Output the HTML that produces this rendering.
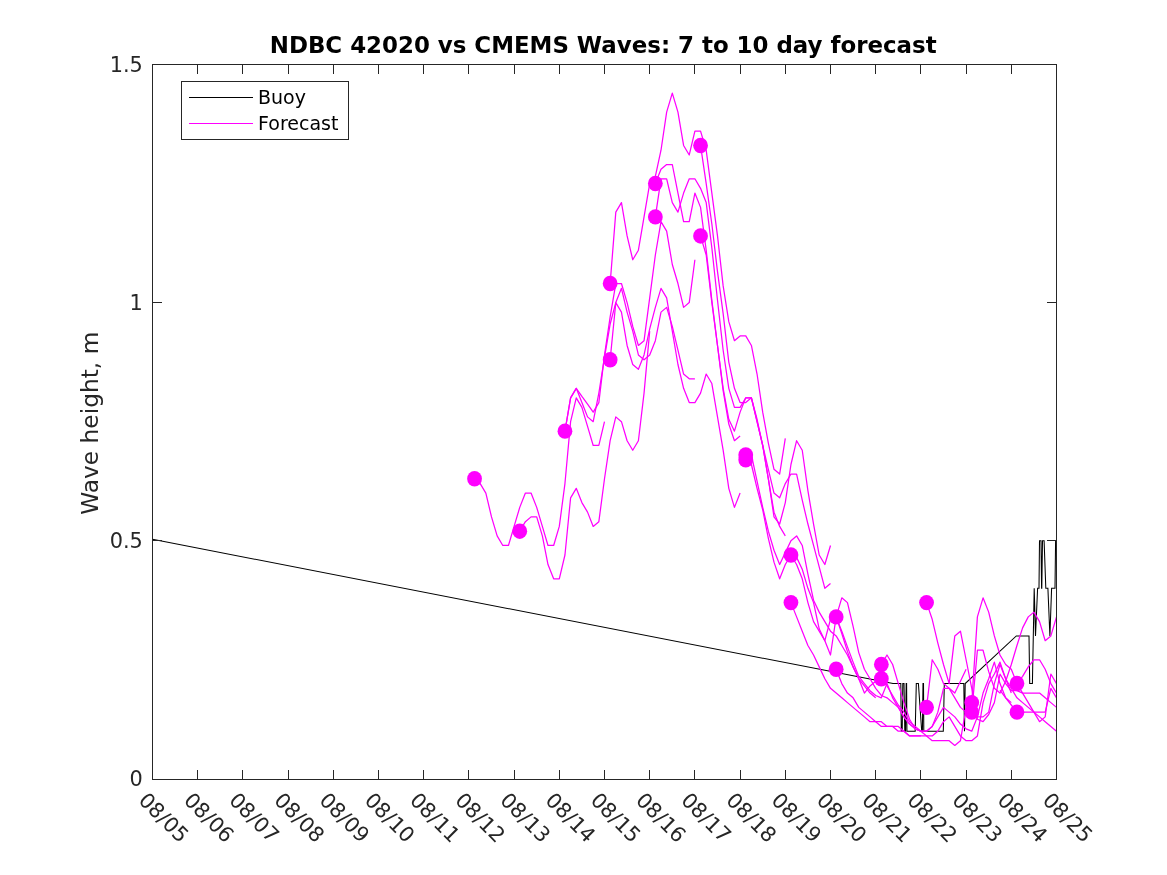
<!DOCTYPE html>
<html lang="en">
<head>
<meta charset="utf-8">
<title>NDBC 42020 vs CMEMS Waves: 7 to 10 day forecast</title>
<style>
html,body{margin:0;padding:0;background:#fff;}
body{width:1167px;height:875px;overflow:hidden;}
svg{display:block;}
text{font-family:"DejaVu Sans","Liberation Sans",sans-serif;}
.tick{font-size:20.83px;fill:#262626;}
.lab{font-size:23.3px;fill:#262626;}
.title{font-size:22.92px;font-weight:bold;fill:#000;}
.leg{font-size:19px;fill:#000;}
.ax{stroke:#262626;stroke-width:1;fill:none;shape-rendering:crispEdges;}
.fc{stroke:#ff00ff;stroke-width:1.25;fill:none;stroke-linejoin:round;}
.by{stroke:#000;stroke-width:1.05;fill:none;stroke-linejoin:miter;}
.dot{fill:#ff00ff;}
</style>
</head>
<body>
<svg width="1167" height="875" viewBox="0 0 1167 875">
<rect x="0" y="0" width="1167" height="875" fill="#ffffff"/>
<defs><clipPath id="clip"><rect x="152.0" y="64.0" width="905.0" height="716.0"/></clipPath></defs>
<g clip-path="url(#clip)">
<polyline class="by" points="152.5,539.27 893,683.56 900.8,683.56 901.3,731.18 902.2,731.18 902.8,683.56 904,683.56 904.8,731.18 905.5,731.18 906.2,683.56 906.6,683.56 906.9,731.18 915.2,731.18 916.3,683.56 918.4,683.56 921.7,731.18 922.4,731.18 923,683.56 923.5,683.56 923.8,731.18 943.3,731.18 944.3,683.56 963.8,683.56 964.5,731.18 965.2,683.56 1016.3,635.94 1029,635.94 1029.7,683.56 1032.4,683.56 1034.2,588.32 1035.5,635.94 1037.6,588.32 1039,588.32 1039.5,540.7 1041,540.7 1041.6,588.32 1041.8,588.32 1042.5,540.7 1044.1,540.7 1045.8,588.32 1047.9,588.32 1049.9,635.94 1051.6,588.32 1055,588.32 1055.6,540.7 1056.5,540.7"/>
<polyline class="fc" points="474.55,478.79 480.2,483.56 485.85,493.08 491.5,516.89 497.15,535.94 502.8,545.46 508.45,545.46 514.1,526.41 519.75,507.37 525.4,493.08 531.05,493.08 536.7,507.37 542.35,526.41 548,545.46 553.65,545.46 559.3,526.41 564.95,483.56 570.6,421.65 576.25,397.84 581.9,407.36 587.55,426.41 593.2,445.46 598.85,445.46 604.5,421.65"/>
<polyline class="fc" points="519.75,531.18 525.4,521.65 531.05,516.89 536.7,516.89 542.35,535.94 548,564.51 553.65,578.8 559.3,578.8 564.95,554.99 570.6,497.84 576.25,488.32 581.9,502.6 587.55,512.13 593.2,526.41 598.85,521.65 604.5,478.79 610.15,440.7 615.8,416.89 621.45,421.65 627.1,440.7 632.75,450.22 638.4,440.7 644.05,393.08 649.7,331.17"/>
<polyline class="fc" points="564.95,431.17 570.6,397.84 576.25,388.32 581.9,396.41 587.55,404.03 593.2,412.13 598.85,402.6 604.5,354.98 610.15,316.89 615.8,283.55 621.45,283.55 627.1,302.6 632.75,326.41 638.4,345.46 644.05,340.7 649.7,297.84 655.35,254.98 661,221.65 666.65,231.17 672.3,264.5 677.95,283.55 683.6,307.36 689.25,302.6 694.9,259.74"/>
<polyline class="fc" points="564.95,431.17 570.6,397.84 576.25,388.32 581.9,402.6 587.55,416.89 593.2,421.65 598.85,393.08 604.5,357.36 610.15,324.03 615.8,302.6 621.45,288.31 627.1,312.12 632.75,331.17 638.4,354.98 644.05,359.74 649.7,354.98 655.35,340.7 661,312.12 666.65,307.36 672.3,326.41 677.95,350.22 683.6,374.03 689.25,378.79 694.9,378.79"/>
<polyline class="fc" points="610.15,359.74 615.8,302.6 621.45,312.12 627.1,345.46 632.75,364.51 638.4,369.27 644.05,354.98 649.7,328.79 655.35,307.36 661,288.31 666.65,297.84 672.3,331.17 677.95,364.51 683.6,388.32 689.25,402.6 694.9,402.6 700.55,393.08 706.2,374.03 711.85,383.55 717.5,416.89 723.15,450.22 728.8,488.32 734.45,507.37 740.1,493.08"/>
<polyline class="fc" points="610.15,283.55 615.8,212.12 621.45,202.6 627.1,235.93 632.75,259.74 638.4,250.22 644.05,216.88 649.7,183.55 655.35,176.41 661,150.22 666.65,112.12 672.3,93.07 677.95,112.12 683.6,145.45 689.25,154.98 694.9,131.17 700.55,131.17 706.2,150.22 711.85,193.07 717.5,235.93 723.15,285.93 728.8,321.65 734.45,340.7 740.1,335.93 745.75,335.93 751.4,345.46 757.05,374.03 762.7,412.13 768.35,443.08 774,469.27 779.65,474.03 785.3,438.32"/>
<polyline class="fc" points="655.35,183.55 661,169.26 666.65,164.5 672.3,164.5 677.95,193.07 683.6,221.65 689.25,221.65 694.9,193.07 700.55,207.36 706.2,250.22 711.85,300.22 717.5,345.46 723.15,390.7 728.8,424.03 734.45,440.7 740.1,435.94"/>
<polyline class="fc" points="655.35,216.88 661,178.79 666.65,178.79 672.3,202.6 677.95,212.12 683.6,193.07 689.25,178.79 694.9,178.79 700.55,188.31 706.2,202.6 711.85,247.84 717.5,300.22 723.15,350.22 728.8,388.32 734.45,407.36 740.1,407.36 745.75,397.84 751.4,397.84 757.05,421.65 762.7,445.46 768.35,478.79 774,512.13 779.65,526.41 785.3,535.94"/>
<polyline class="fc" points="700.55,145.45 706.2,183.55 711.85,224.03 717.5,271.65 723.15,313.55 728.8,362.12 734.45,388.32 740.1,402.6 745.75,402.6 751.4,397.84 757.05,419.27 762.7,445.46 768.35,469.27 774,493.08 779.65,497.84 785.3,483.56 790.95,474.03 796.6,474.03 802.25,500.22 807.9,524.03 813.55,545.46 819.2,566.89 824.85,588.32 830.5,583.56"/>
<polyline class="fc" points="700.55,235.93 706.2,254.98 711.85,302.6 717.5,345.46 723.15,388.32 728.8,419.27 734.45,431.17 740.1,412.13 745.75,397.84 751.4,397.84 757.05,421.65 762.7,445.46 768.35,478.79 774,516.89 779.65,524.03 785.3,502.6 790.95,464.51 796.6,440.7 802.25,450.22 807.9,490.7 813.55,524.03 819.2,554.99 824.85,564.51 830.5,545.46"/>
<polyline class="fc" points="745.75,454.98 751.4,454.98 757.05,481.17 762.7,507.37 768.35,531.18 774,550.22 779.65,564.51 785.3,552.61 790.95,540.7 796.6,535.94 802.25,545.46 807.9,574.03 813.55,600.22 819.2,612.13 824.85,621.65 830.5,631.18 836.15,635.94 841.8,645.46 847.45,654.99 853.1,666.89 858.75,678.8 864.4,685.94 870.05,693.08 875.7,697.85"/>
<polyline class="fc" points="745.75,459.75 751.4,464.51 757.05,488.32 762.7,509.75 768.35,538.32 774,562.13 779.65,578.8 785.3,564.51 790.95,554.99 796.6,564.51 802.25,578.8 807.9,602.61 813.55,621.65 819.2,631.18 824.85,640.7 830.5,654.99 836.15,616.89 841.8,633.56 847.45,651.65 853.1,666.89 858.75,678.8 864.4,693.08 870.05,685.94 875.7,681.18"/>
<polyline class="fc" points="790.95,554.99 796.6,557.37 802.25,569.27 807.9,588.32 813.55,602.61 819.2,628.8 824.85,640.7 830.5,619.27 836.15,616.89 841.8,631.18 847.45,646.89 853.1,662.13 858.75,676.42 864.4,683.56 870.05,690.7 875.7,695.46 881.35,697.85 887,683.56 892.65,697.85 898.3,707.37 903.95,716.89 909.6,724.04 915.25,728.8 920.9,731.18"/>
<polyline class="fc" points="790.95,602.61 796.6,616.89 802.25,631.18 807.9,645.46 813.55,654.99 819.2,666.89 824.85,678.8 830.5,688.32 836.15,693.08 841.8,697.85 847.45,702.61 853.1,707.37 858.75,712.13 864.4,716.89 870.05,721.66 875.7,721.66 881.35,726.42 887,726.42 892.65,726.42 898.3,731.18 903.95,731.18 909.6,735.94 915.25,735.94 920.9,735.94"/>
<polyline class="fc" points="836.15,616.89 841.8,597.84 847.45,602.61 853.1,626.42 858.75,652.61 864.4,669.27 870.05,678.8 875.7,688.32 881.35,695.46 887,697.85 892.65,702.61 898.3,707.37 903.95,716.89 909.6,724.04 915.25,728.8 920.9,731.18 926.55,731.18 932.2,726.42 937.85,712.13 943.5,688.32 949.15,688.32 954.8,693.08 960.45,681.18 966.1,669.27"/>
<polyline class="fc" points="836.15,669.27 841.8,683.56 847.45,693.08 853.1,697.85 858.75,707.37 864.4,712.13 870.05,716.89 875.7,721.66 881.35,721.66 887,726.42 892.65,726.42 898.3,726.42 903.95,731.18 909.6,735.94 915.25,735.94 920.9,735.94 926.55,735.94 932.2,740.7 937.85,740.7 943.5,740.7 949.15,740.7 954.8,745.47 960.45,740.7 966.1,707.37"/>
<polyline class="fc" points="881.35,664.51 887,654.99 892.65,664.51 898.3,683.56 903.95,702.61 909.6,719.27 915.25,728.8 920.9,731.18 926.55,731.18 932.2,726.42 937.85,716.89 943.5,707.37 949.15,712.13 954.8,716.89 960.45,724.04 966.1,728.8 971.75,731.18 977.4,716.89 983.05,693.08 988.7,678.8 994.35,662.13 1000,683.56 1005.65,697.85 1011.3,702.61"/>
<polyline class="fc" points="881.35,678.8 887,685.94 892.65,695.46 898.3,704.99 903.95,712.13 909.6,721.66 915.25,726.42 920.9,731.18 926.55,735.94 932.2,735.94 937.85,731.18 943.5,721.66 949.15,716.89 954.8,726.42 960.45,735.94 966.1,740.7 971.75,740.7 977.4,735.94 983.05,702.61 988.7,683.56 994.35,674.04 1000,662.13 1005.65,678.8 1011.3,693.08"/>
<polyline class="fc" points="926.55,602.61 932.2,619.27 937.85,643.08 943.5,664.51 949.15,683.56 954.8,635.94 960.45,631.18 966.1,659.75 971.75,688.32 977.4,719.27 983.05,721.66 988.7,714.51 994.35,702.61 1000,674.04 1005.65,683.56 1011.3,690.7 1016.95,690.7 1022.6,693.08 1028.25,693.08 1033.9,693.08 1039.55,693.08 1045.2,697.85 1050.85,702.61 1056.5,707.37"/>
<polyline class="fc" points="926.55,707.37 932.2,659.75 937.85,669.27 943.5,683.56 949.15,688.32 954.8,697.85 960.45,707.37 966.1,712.13 971.75,716.89 977.4,716.89 983.05,716.89 988.7,712.13 994.35,683.56 1000,664.51 1005.65,678.8 1011.3,688.32 1016.95,697.85 1022.6,702.61 1028.25,707.37 1033.9,712.13 1039.55,716.89 1045.2,721.66 1050.85,726.42 1056.5,731.18"/>
<polyline class="fc" points="971.75,702.61 977.4,616.89 983.05,597.84 988.7,612.13 994.35,635.94 1000,654.99 1005.65,664.51 1011.3,669.27 1016.95,683.56 1022.6,693.08 1028.25,702.61 1033.9,712.13 1039.55,721.66 1045.2,716.89 1050.85,674.04 1056.5,683.56"/>
<polyline class="fc" points="971.75,712.13 977.4,650.23 983.05,650.23 988.7,671.65 994.35,688.32 1000,693.08 1005.65,681.18 1011.3,664.51 1016.95,645.46 1022.6,627.84 1028.25,616.89 1033.9,612.13 1039.55,621.65 1045.2,640.7 1050.85,635.94 1056.5,616.89"/>
<polyline class="fc" points="1016.95,683.56 1022.6,676.42 1028.25,666.89 1033.9,659.75 1039.55,659.75 1045.2,669.27 1050.85,683.56 1056.5,693.08"/>
<polyline class="fc" points="1000,690.23 1005.65,697.85 1011.3,704.99 1016.95,712.13 1022.6,712.13 1028.25,712.13 1033.9,712.13 1039.55,712.13 1045.2,712.13 1050.85,688.32 1056.5,697.85"/>
<ellipse class="dot" cx="474.55" cy="478.79" rx="7.4" ry="7.7"/>
<ellipse class="dot" cx="519.75" cy="531.18" rx="7.4" ry="7.7"/>
<ellipse class="dot" cx="564.95" cy="431.17" rx="7.4" ry="7.7"/>
<ellipse class="dot" cx="610.15" cy="283.55" rx="7.4" ry="7.7"/>
<ellipse class="dot" cx="610.15" cy="359.74" rx="7.4" ry="7.7"/>
<ellipse class="dot" cx="655.35" cy="183.55" rx="7.4" ry="7.7"/>
<ellipse class="dot" cx="655.35" cy="216.88" rx="7.4" ry="7.7"/>
<ellipse class="dot" cx="700.55" cy="145.45" rx="7.4" ry="7.7"/>
<ellipse class="dot" cx="700.55" cy="235.93" rx="7.4" ry="7.7"/>
<ellipse class="dot" cx="745.75" cy="454.98" rx="7.4" ry="7.7"/>
<ellipse class="dot" cx="745.75" cy="459.75" rx="7.4" ry="7.7"/>
<ellipse class="dot" cx="790.95" cy="554.99" rx="7.4" ry="7.7"/>
<ellipse class="dot" cx="790.95" cy="602.61" rx="7.4" ry="7.7"/>
<ellipse class="dot" cx="836.15" cy="616.89" rx="7.4" ry="7.7"/>
<ellipse class="dot" cx="836.15" cy="669.27" rx="7.4" ry="7.7"/>
<ellipse class="dot" cx="881.35" cy="664.51" rx="7.4" ry="7.7"/>
<ellipse class="dot" cx="881.35" cy="678.8" rx="7.4" ry="7.7"/>
<ellipse class="dot" cx="926.55" cy="602.61" rx="7.4" ry="7.7"/>
<ellipse class="dot" cx="926.55" cy="707.37" rx="7.4" ry="7.7"/>
<ellipse class="dot" cx="971.75" cy="702.61" rx="7.4" ry="7.7"/>
<ellipse class="dot" cx="971.75" cy="712.13" rx="7.4" ry="7.7"/>
<ellipse class="dot" cx="1016.95" cy="683.56" rx="7.4" ry="7.7"/>
<ellipse class="dot" cx="1016.95" cy="712.13" rx="7.4" ry="7.7"/>
</g>
<g class="ax">
<path d="M152.5 64.5H1056.5V779.5H152.5Z"/>
<path d="M197.5 779.5v-9.5M197.5 64.5v9.5M242.5 779.5v-9.5M242.5 64.5v9.5M288.5 779.5v-9.5M288.5 64.5v9.5M333.5 779.5v-9.5M333.5 64.5v9.5M378.5 779.5v-9.5M378.5 64.5v9.5M423.5 779.5v-9.5M423.5 64.5v9.5M468.5 779.5v-9.5M468.5 64.5v9.5M514.5 779.5v-9.5M514.5 64.5v9.5M559.5 779.5v-9.5M559.5 64.5v9.5M604.5 779.5v-9.5M604.5 64.5v9.5M649.5 779.5v-9.5M649.5 64.5v9.5M694.5 779.5v-9.5M694.5 64.5v9.5M740.5 779.5v-9.5M740.5 64.5v9.5M785.5 779.5v-9.5M785.5 64.5v9.5M830.5 779.5v-9.5M830.5 64.5v9.5M875.5 779.5v-9.5M875.5 64.5v9.5M920.5 779.5v-9.5M920.5 64.5v9.5M966.5 779.5v-9.5M966.5 64.5v9.5M1011.5 779.5v-9.5M1011.5 64.5v9.5M152.5 540.5h9.5M1056.5 540.5h-9.5M152.5 302.5h9.5M1056.5 302.5h-9.5"/>
</g>
<text class="tick" text-anchor="end" x="142.8" y="786.3">0</text>
<text class="tick" text-anchor="end" x="142.8" y="548.2">0.5</text>
<text class="tick" text-anchor="end" x="142.8" y="310.1">1</text>
<text class="tick" text-anchor="end" x="142.8" y="72">1.5</text>
<text class="tick" transform="translate(137.5,801.5) rotate(45)" x="0" y="0">08/05</text>
<text class="tick" transform="translate(182.7,801.5) rotate(45)" x="0" y="0">08/06</text>
<text class="tick" transform="translate(227.9,801.5) rotate(45)" x="0" y="0">08/07</text>
<text class="tick" transform="translate(273.1,801.5) rotate(45)" x="0" y="0">08/08</text>
<text class="tick" transform="translate(318.3,801.5) rotate(45)" x="0" y="0">08/09</text>
<text class="tick" transform="translate(363.5,801.5) rotate(45)" x="0" y="0">08/10</text>
<text class="tick" transform="translate(408.7,801.5) rotate(45)" x="0" y="0">08/11</text>
<text class="tick" transform="translate(453.9,801.5) rotate(45)" x="0" y="0">08/12</text>
<text class="tick" transform="translate(499.1,801.5) rotate(45)" x="0" y="0">08/13</text>
<text class="tick" transform="translate(544.3,801.5) rotate(45)" x="0" y="0">08/14</text>
<text class="tick" transform="translate(589.5,801.5) rotate(45)" x="0" y="0">08/15</text>
<text class="tick" transform="translate(634.7,801.5) rotate(45)" x="0" y="0">08/16</text>
<text class="tick" transform="translate(679.9,801.5) rotate(45)" x="0" y="0">08/17</text>
<text class="tick" transform="translate(725.1,801.5) rotate(45)" x="0" y="0">08/18</text>
<text class="tick" transform="translate(770.3,801.5) rotate(45)" x="0" y="0">08/19</text>
<text class="tick" transform="translate(815.5,801.5) rotate(45)" x="0" y="0">08/20</text>
<text class="tick" transform="translate(860.7,801.5) rotate(45)" x="0" y="0">08/21</text>
<text class="tick" transform="translate(905.9,801.5) rotate(45)" x="0" y="0">08/22</text>
<text class="tick" transform="translate(951.1,801.5) rotate(45)" x="0" y="0">08/23</text>
<text class="tick" transform="translate(996.3,801.5) rotate(45)" x="0" y="0">08/24</text>
<text class="tick" transform="translate(1041.5,801.5) rotate(45)" x="0" y="0">08/25</text>
<text class="lab" text-anchor="middle" transform="translate(98,423.2) rotate(-90)">Wave height, m</text>
<text class="title" text-anchor="middle" x="603.2" y="52.8">NDBC 42020 vs CMEMS Waves: 7 to 10 day forecast</text>
<rect x="181.5" y="81.5" width="167" height="58" fill="#fff" stroke="#262626" stroke-width="1" shape-rendering="crispEdges"/>
<path d="M189 97.5H252.5" stroke="#000" stroke-width="1" shape-rendering="crispEdges"/>
<path d="M189 123.5H252.5" stroke="#ff00ff" stroke-width="1" shape-rendering="crispEdges"/>
<text class="leg" x="258" y="104">Buoy</text>
<text class="leg" x="258" y="130">Forecast</text>
</svg>
</body>
</html>
